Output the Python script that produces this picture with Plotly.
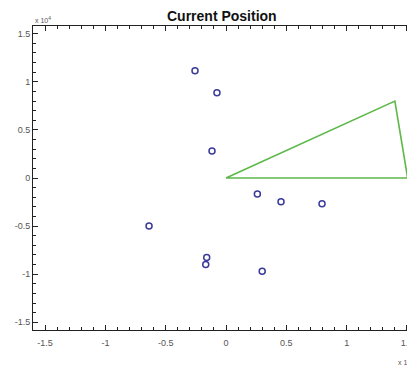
import plotly.graph_objects as go

# positions in units of 10^4
pts_x = [-0.257, -0.075, -0.116, 0.26, 0.456, 0.796, -0.638, -0.16, -0.168, 0.30]
pts_y = [1.115, 0.885, 0.28, -0.167, -0.247, -0.268, -0.5, -0.826, -0.9, -0.97]

tri_x = [0.0, 1.40, 1.506, 0.0]
tri_y = [0.0, 0.80, 0.0, 0.0]

tick_vals = [-1.5, -1, -0.5, 0, 0.5, 1, 1.5]
tick_text = ["-1.5", "-1", "-0.5", "0", "0.5", "1", "1.5"]

fig = go.Figure()
fig.add_trace(go.Scatter(x=tri_x, y=tri_y, mode="lines",
                         line=dict(color="#5cb847", width=1.6), hoverinfo="skip"))
fig.add_trace(go.Scatter(x=pts_x, y=pts_y, mode="markers",
                         marker=dict(symbol="circle-open", size=6, color="#3a3a9a",
                                     line=dict(width=1.5, color="#3a3a9a"))))

axis_common = dict(
    showgrid=False, zeroline=False, showline=True, linecolor="#222", linewidth=1,
    ticks="inside", ticklen=5, tickcolor="#222", automargin=False,
    tickfont=dict(family="Liberation Sans, Arial", size=9, color="#555"),
    tickvals=tick_vals, ticktext=tick_text,
    minor=dict(dtick=0.1, ticks="inside", ticklen=3, tickcolor="#222"),
)

fig.update_layout(
    width=415, height=368,
    margin=dict(l=25, r=4, t=18, b=46),
    paper_bgcolor="white", plot_bgcolor="white",
    showlegend=False,
    xaxis=dict(range=[-1.6, 1.6], mirror="ticks", ticklabelstandoff=4, **axis_common),
    yaxis=dict(range=[-1.58, 1.58], mirror=False, **axis_common),
    annotations=[
        dict(text="<b>Current Position</b>", xref="paper", yref="paper", x=0.49, y=1.034,
             xanchor="center", yanchor="middle", showarrow=False,
             font=dict(family="Liberation Sans, Arial", size=14, color="#111")),
        dict(text="x 10<sup>4</sup>", xref="paper", yref="paper", x=0.0, y=1.0,
             xanchor="left", yanchor="bottom", showarrow=False,
             font=dict(family="Liberation Sans, Arial", size=7, color="#555")),
        dict(text="x 10<sup>4</sup>", xref="paper", yref="paper", x=0.94, y=-0.085,
             xanchor="left", yanchor="top", showarrow=False,
             font=dict(family="Liberation Sans, Arial", size=7, color="#555")),
    ],
)

fig.write_html("out.html")
